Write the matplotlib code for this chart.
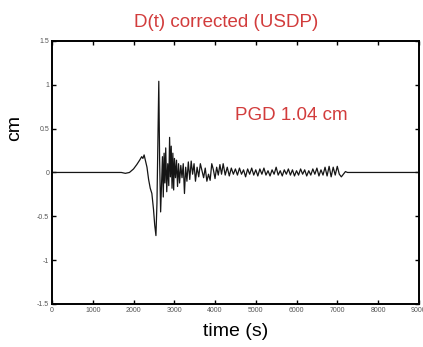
import matplotlib.pyplot as plt

# displacement trace (time in s, displacement in cm)
t = [0, 1000, 1700, 1800, 1900, 2000, 2080, 2150, 2200, 2230, 2260, 2290,
     2330, 2370, 2410, 2450, 2490, 2520, 2550, 2575, 2600, 2620, 2640,
     2665, 2690, 2710, 2730, 2750, 2770, 2790, 2815, 2840, 2865, 2885,
     2905, 2925, 2945, 2965, 2985, 3005, 3030, 3055, 3080, 3105, 3130,
     3160, 3190, 3220, 3250, 3280, 3310, 3345, 3380, 3415, 3450, 3485,
     3520, 3560, 3600, 3640, 3680, 3720, 3760, 3800, 3840, 3880, 3920,
     3960, 4000, 4040, 4080, 4120, 4160, 4200, 4250, 4300, 4350, 4400,
     4450, 4500, 4550, 4600, 4650, 4700, 4750, 4800, 4850, 4900, 4950,
     5000, 5050, 5100, 5150, 5200, 5250, 5300, 5350, 5400, 5450, 5500,
     5550, 5600, 5650, 5700, 5750, 5800, 5850, 5900, 5950, 6000, 6050,
     6100, 6150, 6200, 6250, 6300, 6350, 6400, 6450, 6500, 6550, 6600,
     6650, 6700, 6750, 6800, 6850, 6900, 6950, 7000, 7050, 7100, 7150,
     7200, 7250, 7300, 7400, 7600, 8000, 9000]
d = [0, 0, 0, -0.01, 0.0, 0.04, 0.09, 0.14, 0.18, 0.16, 0.2, 0.14,
     0.06, -0.08, -0.18, -0.24, -0.42, -0.6, -0.72, -0.35, 0.45, 1.04, 0.15,
     -0.45, -0.1, 0.18, -0.28, 0.22, -0.12, 0.28, -0.22, 0.1, -0.15, 0.4,
     -0.05, 0.3, -0.18, 0.22, -0.2, 0.16, -0.06, 0.14, -0.16, 0.1, -0.12,
     0.08, -0.06, 0.1, -0.24, 0.06, -0.1, 0.12, -0.08, 0.13, -0.02, 0.1,
     -0.1, 0.06, -0.05, 0.1, 0.02, -0.06, 0.05, -0.1, -0.02, -0.09, 0.1,
     0.03, -0.07, 0.06, -0.03, 0.09, -0.02, 0.1, -0.03, 0.06, -0.04, 0.05,
     -0.02, 0.04, -0.03, 0.05, -0.02, 0.03, -0.05, 0.04, -0.02, 0.05, -0.03,
     0.03, -0.04, 0.04, -0.02, 0.05, -0.03, 0.02, -0.04, 0.03, -0.02, 0.06,
     -0.03, 0.02, -0.04, 0.03, -0.02, 0.04, -0.03, 0.03, -0.04, 0.02, -0.03,
     0.04, -0.02, 0.03, -0.04, 0.02, -0.03, 0.04, -0.02, 0.05, -0.04, 0.03,
     -0.03, 0.06, -0.04, 0.07, -0.05, 0.06, -0.03, 0.07, -0.02, -0.05, -0.02,
     0.01, 0.0, 0.0, 0.0, 0.0, 0.0, 0.0]

xticks = [0, 1000, 2000, 3000, 4000, 5000, 6000, 7000, 8000, 9000]
yticks = [-1.5, -1, -0.5, 0, 0.5, 1, 1.5]
ytick_labels = ["-1.5", "-1", "-0.5", "0", "0.5", "1", "1.5"]

plt.rcParams['font.family'] = ['Liberation Sans', 'DejaVu Sans']
red = "#d23c3c"

fig = plt.figure(figsize=(4.23, 3.47), dpi=100)
ax = fig.add_axes([0.123, 0.124, 0.867, 0.758])

ax.plot(t, d, color="#151515", lw=0.9)

ax.set_xlim(0, 9000)
ax.set_ylim(-1.5, 1.5)
ax.set_xticks(xticks)
ax.set_xticklabels([str(v) for v in xticks])
ax.set_yticks(yticks)
ax.set_yticklabels(ytick_labels)
ax.tick_params(direction="in", length=3, width=1, labelsize=5,
               labelcolor="#555555", top=True, right=True, pad=2)
for s in ax.spines.values():
    s.set_linewidth(1.4)

ax.set_title("D(t) corrected (USDP)", color=red, fontsize=13.5, pad=10, x=0.475)
ax.set_xlabel("time (s)", fontsize=14, labelpad=7)
ax.set_ylabel("cm", fontsize=14)
ax.yaxis.set_label_coords(-0.08, 0.67)
ax.text(235 / 423, 1 - 116 / 347, "PGD 1.04 cm", color=red, fontsize=13.5,
        transform=fig.transFigure, ha="left", va="center")

fig.savefig("out.png", dpi=100)
